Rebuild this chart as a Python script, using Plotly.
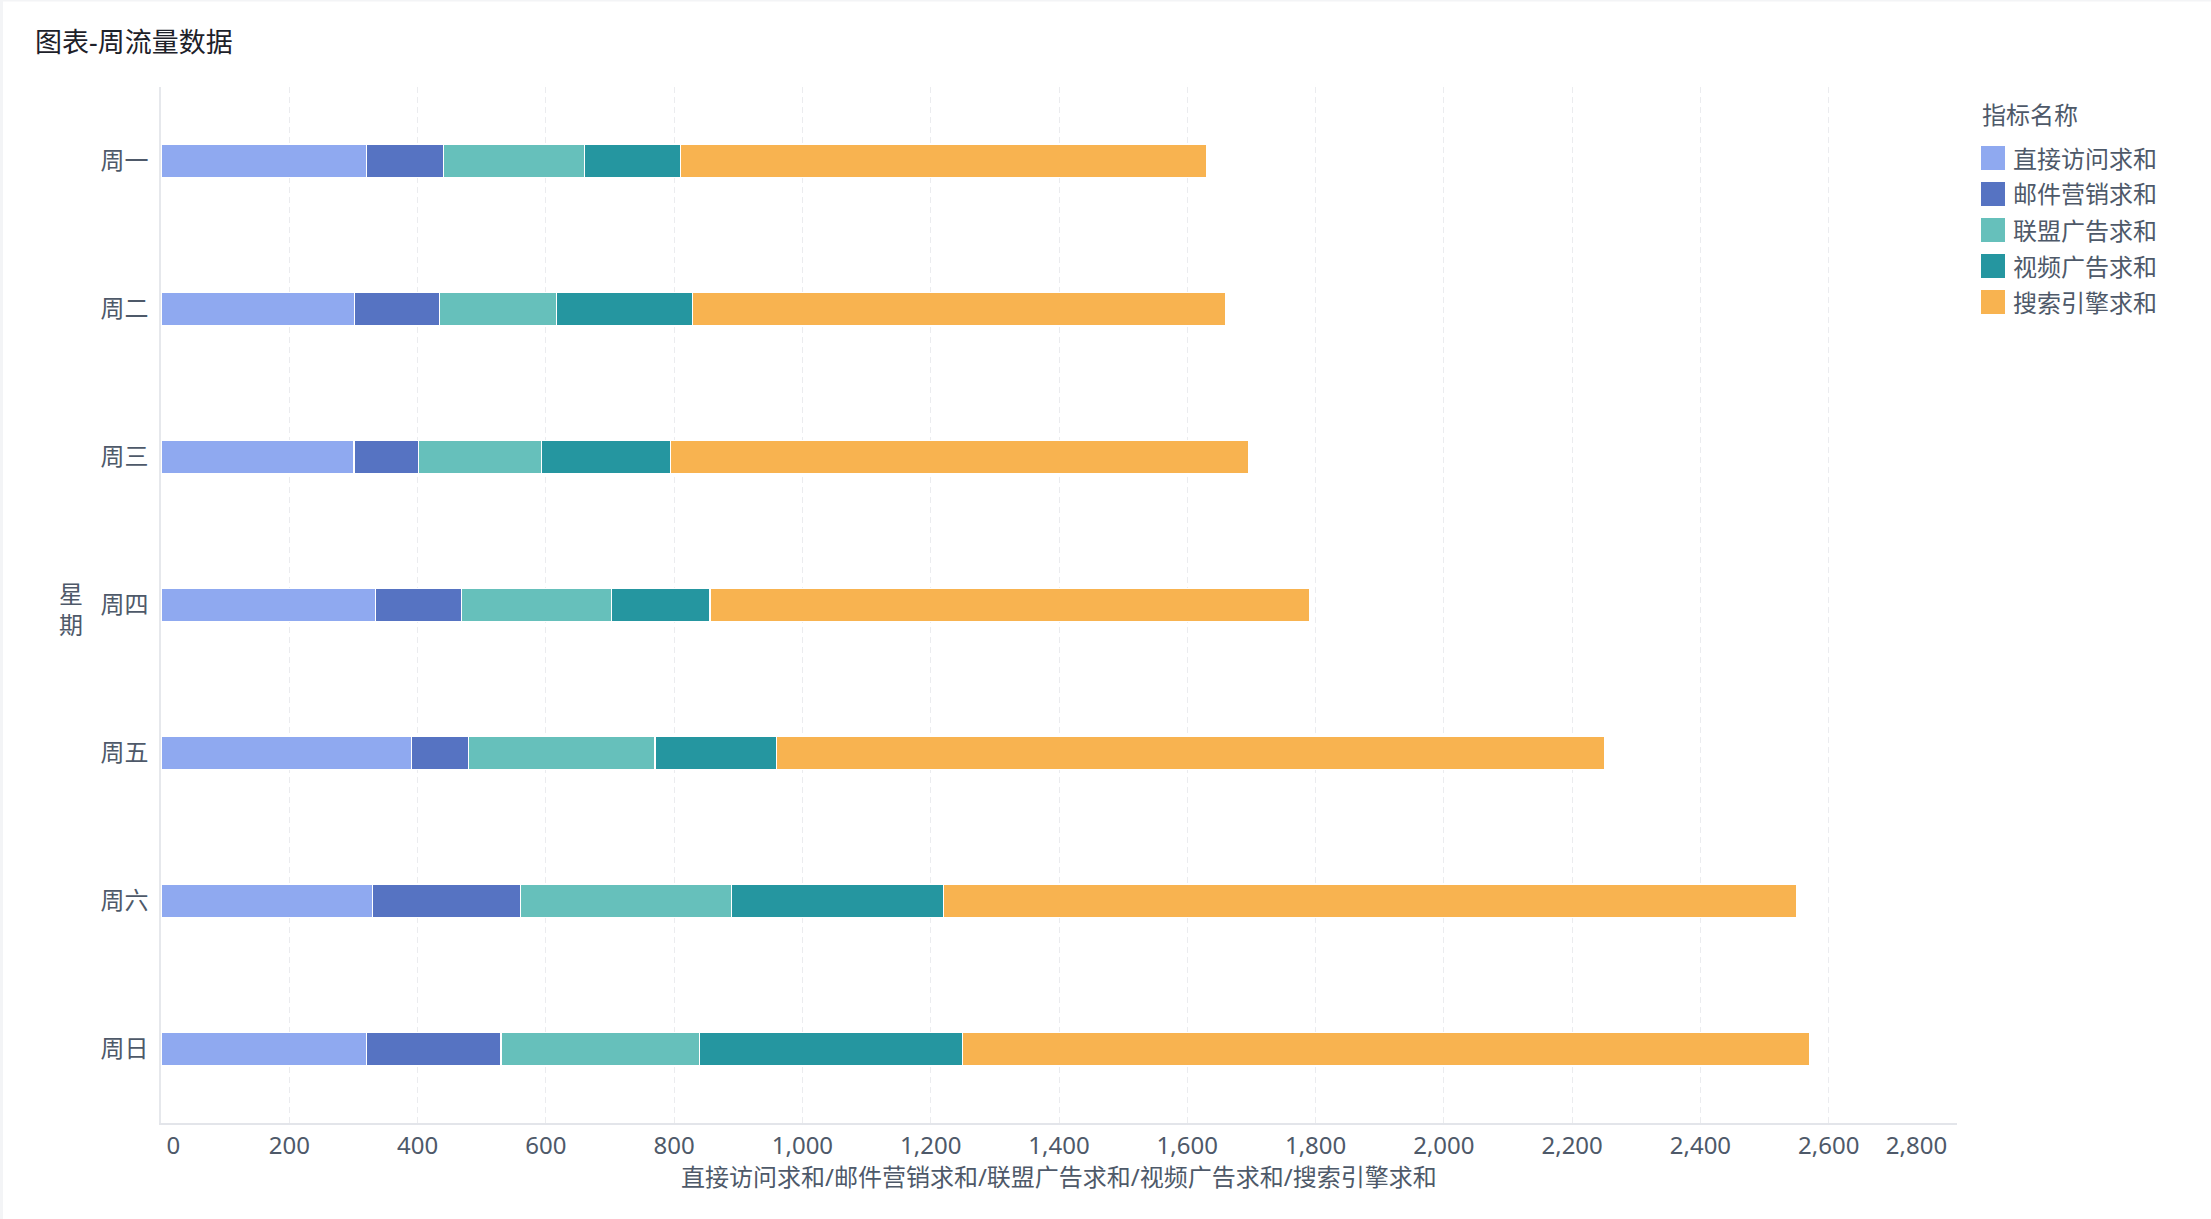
import plotly.graph_objects as go

# ---------------- data ----------------
days = ["周一", "周二", "周三", "周四", "周五", "周六", "周日"]
series_names = ["直接访问求和", "邮件营销求和", "联盟广告求和", "视频广告求和", "搜索引擎求和"]
direct_visit = [320, 302, 301, 334, 390, 330, 320]
email_marketing = [120, 132, 101, 134, 90, 230, 210]
union_ads = [220, 182, 191, 234, 290, 330, 310]
video_ads = [150, 212, 201, 154, 190, 330, 410]
search_engine = [820, 832, 901, 934, 1290, 1330, 1320]
x_tick_values = list(range(0, 2801, 200))

title_text = "图表-周流量数据"
y_title = "星期"
x_title = "/".join(series_names)
legend_title = "指标名称"

# ---------------- style ----------------
colors = ["#8FA9F0", "#5673C2", "#66C0BB", "#2596A0", "#F8B350"]
FONT = "Noto Sans, Noto Sans CJK SC, sans-serif"
TEXT = "#4E5969"
W, H = 2211, 1219
L, R, T, B = 161, 1957, 87, 1123  # plot area in pixels


def px(x):
    return (x - L) / (R - L)


def py(y):
    return (B - y) / (B - T)


# tick labels: edge labels kept inside the plot width (as in the reference)
NB = "\u00a0"
x_tick_text = [f"{v:,}" for v in x_tick_values]
x_tick_text[0] = NB * 4 + x_tick_text[0]
x_tick_text[-1] = x_tick_text[-1] + NB * 13

series_values = [direct_visit, email_marketing, union_ads, video_ads, search_engine]

fig = go.Figure()
for name, vals, col in zip(series_names, series_values, colors):
    fig.add_trace(go.Bar(
        y=days, x=vals, name=name, orientation="h",
        marker=dict(color=col, line=dict(color="white", width=1.2)),
        showlegend=False,
    ))

shapes = []
annotations = []

# custom legend
annotations.append(dict(xref="paper", yref="paper", x=px(1980), y=py(115),
                        text=legend_title, showarrow=False, xanchor="left", yanchor="middle",
                        font=dict(family=FONT, size=24, color=TEXT)))
for i, (name, col) in enumerate(zip(series_names, colors)):
    cy = 158 + 36 * i
    shapes.append(dict(type="rect", xref="paper", yref="paper",
                       x0=px(1981), x1=px(2005), y0=py(cy - 12), y1=py(cy + 12),
                       fillcolor=col, line=dict(width=0)))
    annotations.append(dict(xref="paper", yref="paper", x=px(2011), y=py(cy),
                            text=name, showarrow=False, xanchor="left", yanchor="middle",
                            font=dict(family=FONT, size=24, color=TEXT)))

# y-axis title (stacked characters)
annotations.append(dict(xref="paper", yref="paper", x=px(71), y=py(609),
                        text="<br>".join(list(y_title)), showarrow=False,
                        xanchor="center", yanchor="middle",
                        font=dict(family=FONT, size=24, color=TEXT)))
# x-axis title
annotations.append(dict(xref="paper", yref="paper", x=0.5, y=py(1176),
                        text=x_title, showarrow=False, xanchor="center", yanchor="middle",
                        font=dict(family=FONT, size=24, color=TEXT)))

# faint frame on left/top edges
shapes.append(dict(type="rect", xref="paper", yref="paper", x0=px(0), x1=px(3), y0=py(0), y1=py(H),
                   fillcolor="#F3F4F6", line=dict(width=0), layer="below"))
shapes.append(dict(type="rect", xref="paper", yref="paper", x0=px(0), x1=px(W), y0=py(0), y1=py(1.5),
                   fillcolor="#F3F4F6", line=dict(width=0), layer="below"))

fig.update_layout(
    width=W, height=H, autosize=False,
    margin=dict(l=L, r=W - R, t=T, b=H - B, pad=0),
    barmode="stack", bargap=0.773,
    paper_bgcolor="white", plot_bgcolor="white",
    font=dict(family=FONT, size=24, color=TEXT),
    title=dict(text=title_text, xref="container", yref="container",
               x=35 / W, y=1 - 43 / H, xanchor="left", yanchor="middle",
               font=dict(family=FONT, size=27, color="#1D2129")),
    xaxis=dict(range=[0, 2800], tickvals=x_tick_values, ticktext=x_tick_text,
               showgrid=True, gridcolor="#EBECEF", griddash="6px,4px", gridwidth=1.3,
               zeroline=False, showline=True, linecolor="#E3E5EA", linewidth=2,
               ticks="",
               tickfont=dict(family=FONT, size=24, color=TEXT), fixedrange=True),
    yaxis=dict(autorange="reversed", showgrid=False, zeroline=False,
               showline=True, linecolor="#E6E8EC", linewidth=1.5,
               ticks="outside", ticklen=6, tickcolor="rgba(0,0,0,0)",
               tickfont=dict(family=FONT, size=24, color=TEXT), fixedrange=True),
    shapes=shapes, annotations=annotations,
)

fig.write_html("out.html", config={"displayModeBar": False},
               post_script="document.body.style.margin='0';document.body.style.overflow='hidden';")
